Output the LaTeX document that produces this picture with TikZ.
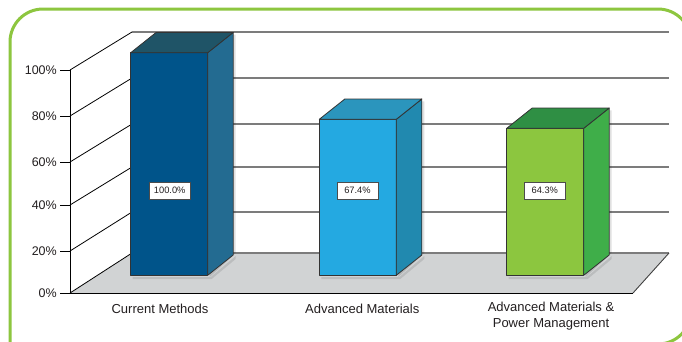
\documentclass[tikz,border=0pt]{standalone}
\usepackage{fontspec}
\setmainfont{Liberation Sans}
\definecolor{frame}{HTML}{8DC63F}
\definecolor{floorc}{HTML}{D1D3D4}
\definecolor{gridc}{HTML}{7C7C7C}
\definecolor{txt}{HTML}{231F20}
\definecolor{aF}{HTML}{00548A}\definecolor{aS}{HTML}{236B91}\definecolor{aT}{HTML}{1F5467}
\definecolor{bF}{HTML}{24A9E1}\definecolor{bS}{HTML}{2189AF}\definecolor{bT}{HTML}{2B95BD}
\definecolor{cF}{HTML}{8CC63F}\definecolor{cS}{HTML}{3FAE49}\definecolor{cT}{HTML}{2F8F44}
\tikzset{
  axislbl/.style={anchor=east,text=txt,font=\fontsize{12.5}{14}\selectfont,inner sep=0pt},
  catlbl/.style={text=txt,font=\fontsize{13}{16}\selectfont,align=center,inner sep=0pt},
  vallbl/.style={draw=black!70,fill=white,line width=0.7pt,text=txt,font=\fontsize{9.3}{11}\selectfont,minimum width=41pt,minimum height=17pt,inner sep=0pt},
  barline/.style={draw=black!80,line width=0.8pt,line join=round},
  grid/.style={draw=gridc,line width=1.1pt},
  blk/.style={draw=black,line width=0.9pt},
}
% bar: #1 x-left, #2 x-right, #3 top y, #4 front, #5 side, #6 top
\newcommand{\drawbar}[6]{%
  \fill[black,opacity=0.12] (#2+2,#3-18) -- (#2+28,#3-18) -- (#2+28,253) -- (#2+2,277) -- cycle;
  \fill[black,opacity=0.10] (#1+2,277) -- (#2+3,277) -- (#2+28,256) -- (#2+28,259) -- (#2+4,279) -- (#1+2,279) -- cycle;
  \path[barline,fill=#4] (#1,#3) rectangle (#2,275.3);
  \path[barline,fill=#5] (#2,#3) -- (#2+25.5,#3-20.3) -- (#2+25.5,255) -- (#2,275.3) -- cycle;
  \path[barline,fill=#6] (#1,#3) -- (#1+25.5,#3-20.3) -- (#2+25.5,#3-20.3) -- (#2,#3) -- cycle;
}
\begin{document}
\begin{tikzpicture}[x=1pt,y=-1pt]
\useasboundingbox (0,0) rectangle (682,341);
\fill[white] (0,0) rectangle (682,341);
\begin{scope}
\clip (0,0) rectangle (682,341);
\draw[frame,line width=3pt,rounded corners=33pt] (10,420) -- (10,9) -- (691,9) -- (691,344) -- (400,344);
\end{scope}
% floor
\path[fill=floorc] (70,293) -- (132,253) -- (669,253) -- (633,293) -- cycle;
\draw[grid] (132,253) -- (669,253);
\draw[blk] (70,293) -- (633,293);
\draw[draw=black!75,line width=0.9pt] (633,293) -- (669,253);
% back wall grid
\foreach \y in {32,78,124,167,212} \draw[grid] (132,\y) -- (668.5,\y);
% left wall diagonals and axis
\foreach \f/\b in {70/32,116/78,162/124,205/167,251/212,293/253}
  \draw[blk,line width=0.8pt] (70,\f) -- (132,\b);
\draw[blk] (70,70) -- (70,293);
\foreach \y in {70,116,162,205,251,293} \draw[blk] (60,\y) -- (70,\y);
\node[axislbl] (l100) at (57,70) {100\%};
\node[axislbl] (l80) at (57,116) {80\%};
\node[axislbl] (l60) at (57,162) {60\%};
\node[axislbl] (l40) at (57,205) {40\%};
\node[axislbl] (l20) at (57,251) {20\%};
\node[axislbl] (l0) at (57,293) {0\%};
% bars
\drawbar{130.7}{207.7}{52.7}{aF}{aS}{aT}
\drawbar{319.3}{396.3}{119.3}{bF}{bS}{bT}
\drawbar{506.7}{583.7}{128.3}{cF}{cS}{cT}
% value labels
\node[vallbl] (v1) at (169.7,190.5) {100.0\%};
\node[vallbl] (v2) at (357.5,190.5) {67.4\%};
\node[vallbl] (v3) at (544.8,190.5) {64.3\%};
% categories
\node[catlbl] (c1) at (160,308.5) {Current Methods};
\node[catlbl] (c2) at (362.3,308.5) {Advanced Materials};
\node[catlbl] (c3) at (551,316.5) {Advanced Materials \&\\Power Management};
\end{tikzpicture}
\end{document}
